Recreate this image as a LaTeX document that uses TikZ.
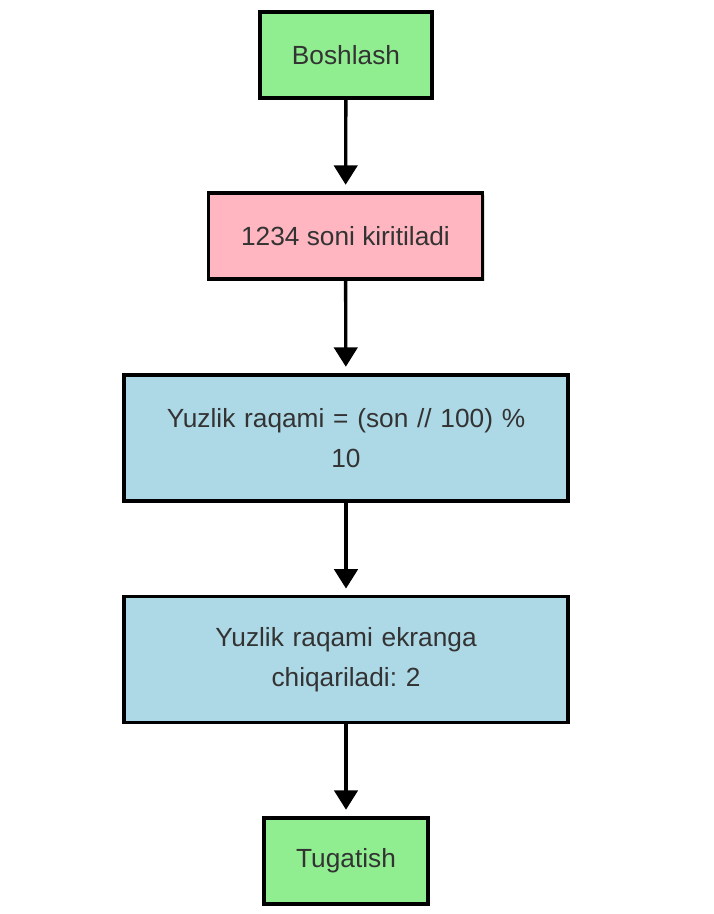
\documentclass[tikz,border=0pt]{standalone}
\usepackage{fontspec}
\setmainfont{Liberation Sans}
\usetikzlibrary{arrows.meta,shadows}
\definecolor{startgreen}{HTML}{90EE90}
\definecolor{inpink}{HTML}{FFB6C1}
\definecolor{procblue}{HTML}{ADD8E6}
\definecolor{txtgray}{HTML}{333333}
\frenchspacing
\begin{document}
\begin{tikzpicture}[x=0.75pt,y=-0.75pt,
  box/.style={draw=black,line width=2.4pt,inner sep=0pt,align=center,
    text=txtgray,font=\fontsize{19.7pt}{30pt}\selectfont,
    drop shadow={shadow xshift=1.5pt,shadow yshift=-1.5pt,opacity=0.12,fill=black}},
  conn/.style={line width=2.5pt,-{Triangle[width=17.5pt,length=14.5pt]},shorten >=5pt}]
\useasboundingbox (0,0) rectangle (714,914);
\node[box,fill=startgreen,minimum width=129pt,minimum height=64.5pt] (start) at (346,55) {Boshlash};
\node[box,fill=inpink,minimum width=206pt,minimum height=64.5pt] (input) at (345.5,236) {1234 soni kiritiladi};
\node[box,fill=procblue,minimum width=333pt,minimum height=94.5pt,text width=320pt] (calc) at (346,438) {Yuzlik raqami = (son // 100) \%\\10};
\node[box,fill=procblue,minimum width=333pt,minimum height=94pt,text width=320pt] (out) at (346,659.5) {Yuzlik raqami ekranga\\chiqariladi: 2};
\node[box,fill=startgreen,minimum width=123pt,minimum height=64.5pt] (end) at (346,861) {Tugatish};
\draw[conn] (start) -- (input);
\draw[conn] (input) -- (calc);
\draw[conn] (calc) -- (out);
\draw[conn] (out) -- (end);
\end{tikzpicture}
\end{document}
